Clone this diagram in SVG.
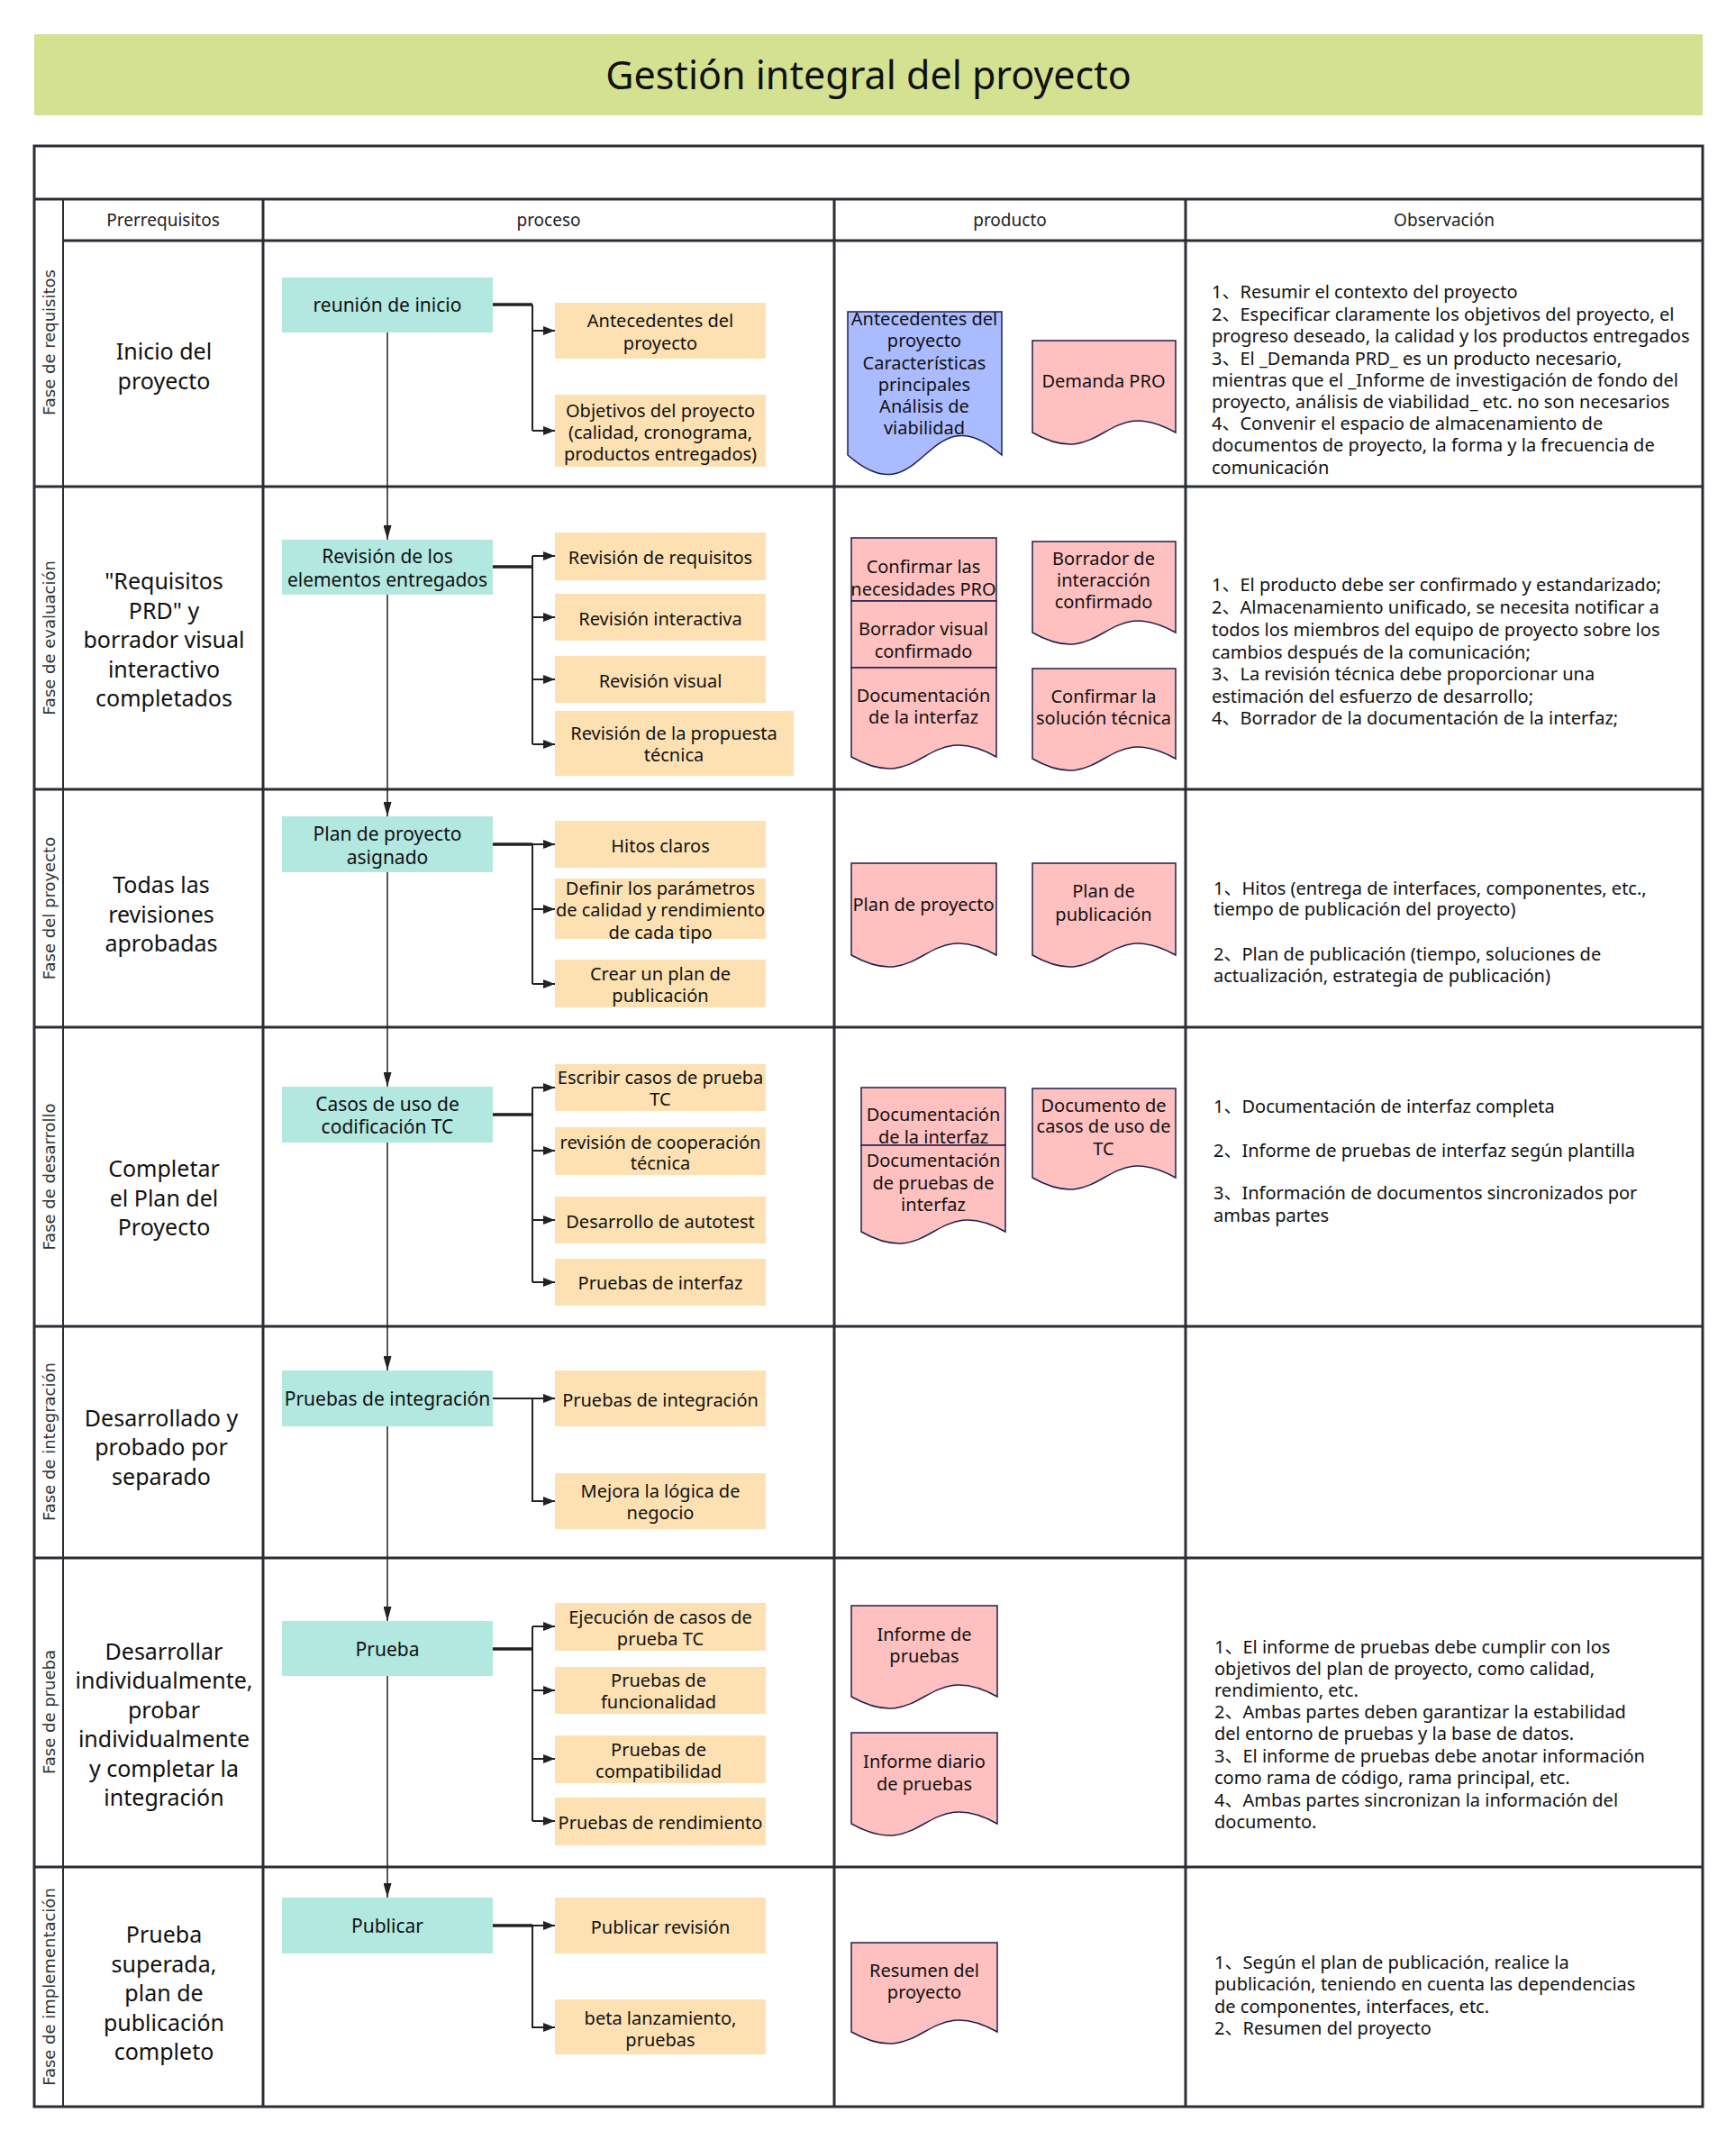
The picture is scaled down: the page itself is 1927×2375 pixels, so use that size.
<svg xmlns="http://www.w3.org/2000/svg" width="1927" height="2375" viewBox="0 0 1927 2375">
<defs>
<style>
.t{font-family:"Noto Sans","Noto Sans CJK SC",sans-serif;font-size:20px;fill:#111;dominant-baseline:central}
.c{text-anchor:middle}
.pp{font-size:21px}
.pre{font-size:25px}
.ttl{font-size:43px}
.hdr{font-size:19px;fill:#222}
.phase{font-family:"DejaVu Sans",sans-serif;font-size:18px;fill:#333;text-anchor:middle;dominant-baseline:central}
.grid{stroke:#2b2f35;stroke-width:3;fill:none}
.proc{fill:#b2e8e0}
.task{fill:#fde1b2}
.doc{fill:#ffc0c0;stroke:#1e2050;stroke-width:1.5}
.docb{fill:#abbbff;stroke:#1e2050;stroke-width:1.5}
.main{stroke:#222;stroke-width:1.5;fill:none}
.stem{stroke:#222;stroke-width:3.5;fill:none}
.br{stroke:#222;stroke-width:2;fill:none}
</style>
<marker id="am" markerUnits="userSpaceOnUse" markerWidth="16" markerHeight="9" refX="16" refY="4.5" orient="auto"><path d="M0,0 L16,4.5 L0,9 Z" fill="#222"/></marker>
<marker id="ab" markerUnits="userSpaceOnUse" markerWidth="13" markerHeight="10" refX="13" refY="5" orient="auto"><path d="M0,0 L13,5 L0,10 Z" fill="#222"/></marker>
</defs>
<rect width="1927" height="2375" fill="#fff"/>
<g id="title">
<rect x="38" y="38" width="1852" height="90" fill="#d4e191"/>
<text class="t c ttl" x="964" y="82">Gestión integral del proyecto</text>
</g>
<g id="table">
<rect class="grid" x="38" y="162" width="1852" height="2176"/>
<line class="grid" x1="38" y1="221" x2="1890" y2="221"/>
<line class="grid" x1="70" y1="267" x2="1890" y2="267"/>
<line class="grid" x1="38" y1="540" x2="1890" y2="540"/>
<line class="grid" x1="38" y1="876" x2="1890" y2="876"/>
<line class="grid" x1="38" y1="1140" x2="1890" y2="1140"/>
<line class="grid" x1="38" y1="1472" x2="1890" y2="1472"/>
<line class="grid" x1="38" y1="1729" x2="1890" y2="1729"/>
<line class="grid" x1="38" y1="2072" x2="1890" y2="2072"/>
<line class="grid" x1="70" y1="221" x2="70" y2="2338" style="stroke-width:2"/>
<line class="grid" x1="292" y1="221" x2="292" y2="2338"/>
<line class="grid" x1="926" y1="221" x2="926" y2="2338"/>
<line class="grid" x1="1316" y1="221" x2="1316" y2="2338"/>
<text class="t c hdr" x="181" y="244">Prerrequisitos</text>
<text class="t c hdr" x="609" y="244">proceso</text>
<text class="t c hdr" x="1121" y="244">producto</text>
<text class="t c hdr" x="1603" y="244">Observación</text>
</g>
<g id="phases">
<text class="phase" x="54" y="380" transform="rotate(-90 54 380)">Fase de requisitos</text>
<text class="phase" x="54" y="708" transform="rotate(-90 54 708)">Fase de evaluación</text>
<text class="phase" x="54" y="1008" transform="rotate(-90 54 1008)">Fase del proyecto</text>
<text class="phase" x="54" y="1306" transform="rotate(-90 54 1306)">Fase de desarrollo</text>
<text class="phase" x="54" y="1600" transform="rotate(-90 54 1600)">Fase de integración</text>
<text class="phase" x="54" y="1900" transform="rotate(-90 54 1900)">Fase de prueba</text>
<text class="phase" x="54" y="2205" transform="rotate(-90 54 2205)">Fase de implementación</text>
</g>
<g id="prerequisites">
<text class="t c pre"><tspan x="182" y="389">Inicio del</tspan><tspan x="182" y="422">proyecto</tspan></text>
<text class="t c pre"><tspan x="182" y="644">"Requisitos</tspan><tspan x="182" y="676.5">PRD" y</tspan><tspan x="182" y="709">borrador visual</tspan><tspan x="182" y="741.5">interactivo</tspan><tspan x="182" y="774">completados</tspan></text>
<text class="t c pre"><tspan x="179" y="981">Todas las</tspan><tspan x="179" y="1013.5">revisiones</tspan><tspan x="179" y="1046">aprobadas</tspan></text>
<text class="t c pre"><tspan x="182" y="1296">Completar</tspan><tspan x="182" y="1328.5">el Plan del</tspan><tspan x="182" y="1361">Proyecto</tspan></text>
<text class="t c pre"><tspan x="179" y="1572.5">Desarrollado y</tspan><tspan x="179" y="1605">probado por</tspan><tspan x="179" y="1637.5">separado</tspan></text>
<text class="t c pre"><tspan x="182" y="1831.75">Desarrollar</tspan><tspan x="182" y="1864.25">individualmente,</tspan><tspan x="182" y="1896.75">probar</tspan><tspan x="182" y="1929.25">individualmente</tspan><tspan x="182" y="1961.75">y completar la</tspan><tspan x="182" y="1994.25">integración</tspan></text>
<text class="t c pre"><tspan x="182" y="2146">Prueba</tspan><tspan x="182" y="2178.5">superada,</tspan><tspan x="182" y="2211">plan de</tspan><tspan x="182" y="2243.5">publicación</tspan><tspan x="182" y="2276">completo</tspan></text>
</g>
<g id="connectors">
<line class="main" x1="430" y1="369" x2="430" y2="599" marker-end="url(#am)"/>
<line class="main" x1="430" y1="660" x2="430" y2="906" marker-end="url(#am)"/>
<line class="main" x1="430" y1="968" x2="430" y2="1206" marker-end="url(#am)"/>
<line class="main" x1="430" y1="1268" x2="430" y2="1521" marker-end="url(#am)"/>
<line class="main" x1="430" y1="1583" x2="430" y2="1799" marker-end="url(#am)"/>
<line class="main" x1="430" y1="1860" x2="430" y2="2106" marker-end="url(#am)"/>
<path class="stem" d="M547,338 H591"/>
<path class="br" d="M591,338 V478"/>
<path class="br" d="M591,367 H616" marker-end="url(#ab)"/>
<path class="br" d="M591,478 H616" marker-end="url(#ab)"/>
<path class="stem" d="M547,629 H591"/>
<path class="br" d="M591,617 V826"/>
<path class="br" d="M591,617 H616" marker-end="url(#ab)"/>
<path class="br" d="M591,685 H616" marker-end="url(#ab)"/>
<path class="br" d="M591,754 H616" marker-end="url(#ab)"/>
<path class="br" d="M591,826 H616" marker-end="url(#ab)"/>
<path class="stem" d="M547,937 H591"/>
<path class="br" d="M591,937 V1092"/>
<path class="br" d="M591,937 H616" marker-end="url(#ab)"/>
<path class="br" d="M591,1009 H616" marker-end="url(#ab)"/>
<path class="br" d="M591,1092 H616" marker-end="url(#ab)"/>
<path class="stem" d="M547,1237 H591"/>
<path class="br" d="M591,1207 V1423"/>
<path class="br" d="M591,1207 H616" marker-end="url(#ab)"/>
<path class="br" d="M591,1277 H616" marker-end="url(#ab)"/>
<path class="br" d="M591,1354 H616" marker-end="url(#ab)"/>
<path class="br" d="M591,1423 H616" marker-end="url(#ab)"/>
<path class="br" d="M547,1552 H616" marker-end="url(#ab)"/>
<path class="br" d="M591,1552 V1666 H616" marker-end="url(#ab)"/>
<path class="stem" d="M547,1830 H591"/>
<path class="br" d="M591,1805 V2021"/>
<path class="br" d="M591,1805 H616" marker-end="url(#ab)"/>
<path class="br" d="M591,1876 H616" marker-end="url(#ab)"/>
<path class="br" d="M591,1952 H616" marker-end="url(#ab)"/>
<path class="br" d="M591,2021 H616" marker-end="url(#ab)"/>
<path class="stem" d="M547,2137 H591"/>
<path class="br" d="M591,2137 H616" marker-end="url(#ab)"/>
<path class="br" d="M591,2137 V2250 H616" marker-end="url(#ab)"/>
</g>
<g id="p1"><rect class="proc" x="313" y="308" width="234" height="61"/><text class="t c pp" x="430" y="338">reunión de inicio</text></g>
<g id="p2"><rect class="proc" x="313" y="599" width="234" height="61"/><text class="t c pp"><tspan x="430" y="617">Revisión de los</tspan><tspan x="430" y="643">elementos entregados</tspan></text></g>
<g id="p3"><rect class="proc" x="313" y="906" width="234" height="62"/><text class="t c pp"><tspan x="430" y="925">Plan de proyecto</tspan><tspan x="430" y="951">asignado</tspan></text></g>
<g id="p4"><rect class="proc" x="313" y="1206" width="234" height="62"/><text class="t c pp"><tspan x="430" y="1225">Casos de uso de</tspan><tspan x="430" y="1250">codificación TC</tspan></text></g>
<g id="p5"><rect class="proc" x="313" y="1521" width="234" height="62"/><text class="t c pp" x="430" y="1552">Pruebas de integración</text></g>
<g id="p6"><rect class="proc" x="313" y="1799" width="234" height="61"/><text class="t c pp" x="430" y="1830">Prueba</text></g>
<g id="p7"><rect class="proc" x="313" y="2106" width="234" height="62"/><text class="t c pp" x="430" y="2137">Publicar</text></g>
<g id="t1a"><rect class="task" x="616" y="336" width="234" height="62"/><text class="t c"><tspan x="733" y="355">Antecedentes del</tspan><tspan x="733" y="380">proyecto</tspan></text></g>
<g id="t1b"><rect class="task" x="616" y="438" width="234" height="80"/><text class="t c"><tspan x="733" y="455">Objetivos del proyecto</tspan><tspan x="733" y="479">(calidad, cronograma,</tspan><tspan x="733" y="503">productos entregados)</tspan></text></g>
<g id="t2a"><rect class="task" x="616" y="591" width="234" height="53"/><text class="t c" x="733" y="618">Revisión de requisitos</text></g>
<g id="t2b"><rect class="task" x="616" y="659" width="234" height="52"/><text class="t c" x="733" y="686">Revisión interactiva</text></g>
<g id="t2c"><rect class="task" x="616" y="728" width="234" height="52"/><text class="t c" x="733" y="755">Revisión visual</text></g>
<g id="t2d"><rect class="task" x="616" y="789" width="265" height="72"/><text class="t c"><tspan x="748" y="813">Revisión de la propuesta</tspan><tspan x="748" y="837">técnica</tspan></text></g>
<g id="t3a"><rect class="task" x="616" y="911" width="234" height="52"/><text class="t c" x="733" y="938">Hitos claros</text></g>
<g id="t3b"><rect class="task" x="616" y="975" width="234" height="67"/><text class="t c"><tspan x="733" y="985">Definir los parámetros</tspan><tspan x="733" y="1009">de calidad y rendimiento</tspan><tspan x="733" y="1034">de cada tipo</tspan></text></g>
<g id="t3c"><rect class="task" x="616" y="1065" width="234" height="53"/><text class="t c"><tspan x="733" y="1080">Crear un plan de</tspan><tspan x="733" y="1104">publicación</tspan></text></g>
<g id="t4a"><rect class="task" x="616" y="1181" width="234" height="52"/><text class="t c"><tspan x="733" y="1195">Escribir casos de prueba</tspan><tspan x="733" y="1219">TC</tspan></text></g>
<g id="t4b"><rect class="task" x="616" y="1251" width="234" height="53"/><text class="t c"><tspan x="733" y="1267">revisión de cooperación</tspan><tspan x="733" y="1290">técnica</tspan></text></g>
<g id="t4c"><rect class="task" x="616" y="1328" width="234" height="52"/><text class="t c" x="733" y="1355">Desarrollo de autotest</text></g>
<g id="t4d"><rect class="task" x="616" y="1397" width="234" height="52"/><text class="t c" x="733" y="1423">Pruebas de interfaz</text></g>
<g id="t5a"><rect class="task" x="616" y="1521" width="234" height="62"/><text class="t c" x="733" y="1553">Pruebas de integración</text></g>
<g id="t5b"><rect class="task" x="616" y="1635" width="234" height="62"/><text class="t c"><tspan x="733" y="1654">Mejora la lógica de</tspan><tspan x="733" y="1678">negocio</tspan></text></g>
<g id="t6a"><rect class="task" x="616" y="1779" width="234" height="53"/><text class="t c"><tspan x="733" y="1794">Ejecución de casos de</tspan><tspan x="733" y="1818">prueba TC</tspan></text></g>
<g id="t6b"><rect class="task" x="616" y="1850" width="234" height="52"/><text class="t c"><tspan x="731" y="1864">Pruebas de</tspan><tspan x="731" y="1888">funcionalidad</tspan></text></g>
<g id="t6c"><rect class="task" x="616" y="1926" width="234" height="53"/><text class="t c"><tspan x="731" y="1941">Pruebas de</tspan><tspan x="731" y="1965">compatibilidad</tspan></text></g>
<g id="t6d"><rect class="task" x="616" y="1995" width="234" height="53"/><text class="t c" x="733" y="2022">Pruebas de rendimiento</text></g>
<g id="t7a"><rect class="task" x="616" y="2106" width="234" height="62"/><text class="t c" x="733" y="2138">Publicar revisión</text></g>
<g id="t7b"><rect class="task" x="616" y="2219" width="234" height="61"/><text class="t c"><tspan x="733" y="2239">beta lanzamiento,</tspan><tspan x="733" y="2263">pruebas</tspan></text></g>
<g id="d1"><path class="docb" d="M941,346 H1112 V505 C1026.5,430 1026.5,580 941,505 Z"/><text class="t c"><tspan x="1026" y="353">Antecedentes del</tspan><tspan x="1026" y="377">proyecto</tspan><tspan x="1026" y="402">Características</tspan><tspan x="1026" y="426">principales</tspan><tspan x="1026" y="450">Análisis de</tspan><tspan x="1026" y="474">viabilidad</tspan></text></g>
<g id="d2"><path class="doc" d="M1146,378 H1305 V480 C1225.5,435 1225.5,525 1146,480 Z"/><text class="t c" x="1225" y="422">Demanda PRO</text></g>
<g id="d3"><rect class="doc" x="945" y="597" width="161" height="70"/><rect class="doc" x="945" y="667" width="161" height="74"/><path class="doc" d="M945,741 H1106 V840 C1025.5,795 1025.5,885 945,840 Z"/><text class="t c"><tspan x="1025" y="628">Confirmar las</tspan><tspan x="1025" y="653">necesidades PRO</tspan><tspan x="1025" y="697">Borrador visual</tspan><tspan x="1025" y="722">confirmado</tspan><tspan x="1025" y="771">Documentación</tspan><tspan x="1025" y="795">de la interfaz</tspan></text></g>
<g id="d4"><path class="doc" d="M1146,601 H1305 V702 C1225.5,657 1225.5,747 1146,702 Z"/><text class="t c"><tspan x="1225" y="619">Borrador de</tspan><tspan x="1225" y="643">interacción</tspan><tspan x="1225" y="667">confirmado</tspan></text></g>
<g id="d5"><path class="doc" d="M1146,742 H1305 V842 C1225.5,797 1225.5,887 1146,842 Z"/><text class="t c"><tspan x="1225" y="772">Confirmar la</tspan><tspan x="1225" y="796">solución técnica</tspan></text></g>
<g id="d6"><path class="doc" d="M945,958 H1106 V1060 C1025.5,1015 1025.5,1105 945,1060 Z"/><text class="t c" x="1025" y="1003">Plan de proyecto</text></g>
<g id="d7"><path class="doc" d="M1146,958 H1305 V1060 C1225.5,1015 1225.5,1105 1146,1060 Z"/><text class="t c"><tspan x="1225" y="988">Plan de</tspan><tspan x="1225" y="1014">publicación</tspan></text></g>
<g id="d8"><rect class="doc" x="956" y="1207" width="160" height="64"/><path class="doc" d="M956,1271 H1116 V1367 C1036,1322 1036,1412 956,1367 Z"/><text class="t c"><tspan x="1036" y="1236">Documentación</tspan><tspan x="1036" y="1261">de la interfaz</tspan><tspan x="1036" y="1287">Documentación</tspan><tspan x="1036" y="1312">de pruebas de</tspan><tspan x="1036" y="1336">interfaz</tspan></text></g>
<g id="d9"><path class="doc" d="M1146,1208 H1305 V1307 C1225.5,1262 1225.5,1352 1146,1307 Z"/><text class="t c"><tspan x="1225" y="1226">Documento de</tspan><tspan x="1225" y="1249">casos de uso de</tspan><tspan x="1225" y="1274">TC</tspan></text></g>
<g id="d10"><path class="doc" d="M945,1782 H1107 V1883 C1026,1838 1026,1928 945,1883 Z"/><text class="t c"><tspan x="1026" y="1813">Informe de</tspan><tspan x="1026" y="1837">pruebas</tspan></text></g>
<g id="d11"><path class="doc" d="M945,1923 H1107 V2024 C1026,1979 1026,2069 945,2024 Z"/><text class="t c"><tspan x="1026" y="1954">Informe diario</tspan><tspan x="1026" y="1979">de pruebas</tspan></text></g>
<g id="d12"><path class="doc" d="M945,2156 H1107 V2255 C1026,2210 1026,2300 945,2255 Z"/><text class="t c"><tspan x="1026" y="2186">Resumen del</tspan><tspan x="1026" y="2210">proyecto</tspan></text></g>
<g id="notes">
<text class="t"><tspan x="1345" y="323">1、Resumir el contexto del proyecto</tspan><tspan x="1345" y="348">2、Especificar claramente los objetivos del proyecto, el</tspan><tspan x="1345" y="372">progreso deseado, la calidad y los productos entregados</tspan><tspan x="1345" y="397">3、El _Demanda PRD_ es un producto necesario,</tspan><tspan x="1345" y="421">mientras que el _Informe de investigación de fondo del</tspan><tspan x="1345" y="445">proyecto, análisis de viabilidad_ etc. no son necesarios</tspan><tspan x="1345" y="469">4、Convenir el espacio de almacenamiento de</tspan><tspan x="1345" y="493">documentos de proyecto, la forma y la frecuencia de</tspan><tspan x="1345" y="518">comunicación</tspan></text>
<text class="t"><tspan x="1345" y="648">1、El producto debe ser confirmado y estandarizado;</tspan><tspan x="1345" y="673">2、Almacenamiento unificado, se necesita notificar a</tspan><tspan x="1345" y="698">todos los miembros del equipo de proyecto sobre los</tspan><tspan x="1345" y="723">cambios después de la comunicación;</tspan><tspan x="1345" y="747">3、La revisión técnica debe proporcionar una</tspan><tspan x="1345" y="772">estimación del esfuerzo de desarrollo;</tspan><tspan x="1345" y="796">4、Borrador de la documentación de la interfaz;</tspan></text>
<text class="t"><tspan x="1347" y="985">1、Hitos (entrega de interfaces, componentes, etc.,</tspan><tspan x="1347" y="1008">tiempo de publicación del proyecto)</tspan><tspan x="1347" y="1058">2、Plan de publicación (tiempo, soluciones de</tspan><tspan x="1347" y="1082">actualización, estrategia de publicación)</tspan></text>
<text class="t"><tspan x="1347" y="1227">1、Documentación de interfaz completa</tspan><tspan x="1347" y="1276">2、Informe de pruebas de interfaz según plantilla</tspan><tspan x="1347" y="1323">3、Información de documentos sincronizados por</tspan><tspan x="1347" y="1348">ambas partes</tspan></text>
<text class="t"><tspan x="1348" y="1827">1、El informe de pruebas debe cumplir con los</tspan><tspan x="1348" y="1851">objetivos del plan de proyecto, como calidad,</tspan><tspan x="1348" y="1875">rendimiento, etc.</tspan><tspan x="1348" y="1899">2、Ambas partes deben garantizar la estabilidad</tspan><tspan x="1348" y="1923">del entorno de pruebas y la base de datos.</tspan><tspan x="1348" y="1948">3、El informe de pruebas debe anotar información</tspan><tspan x="1348" y="1972">como rama de código, rama principal, etc.</tspan><tspan x="1348" y="1997">4、Ambas partes sincronizan la información del</tspan><tspan x="1348" y="2021">documento.</tspan></text>
<text class="t"><tspan x="1348" y="2177">1、Según el plan de publicación, realice la</tspan><tspan x="1348" y="2201">publicación, teniendo en cuenta las dependencias</tspan><tspan x="1348" y="2226">de componentes, interfaces, etc.</tspan><tspan x="1348" y="2250">2、Resumen del proyecto</tspan></text>
</g>
</svg>
